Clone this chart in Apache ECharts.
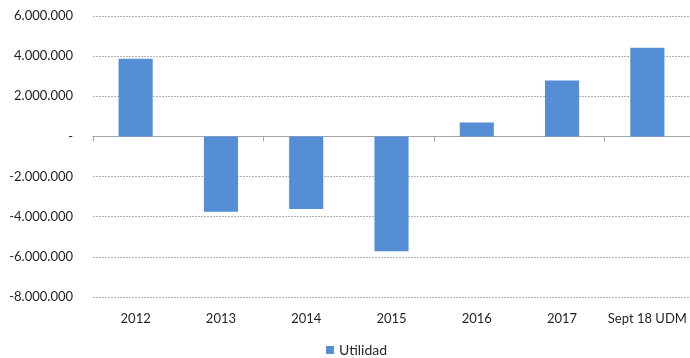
<!DOCTYPE html>
<html><head><meta charset="utf-8">
<script src="https://cdn.jsdelivr.net/npm/echarts@6/dist/echarts.min.js"></script>
<style>html,body{margin:0;padding:0;background:#fff}#c{width:690px;height:358px}</style>
</head><body><div id="c"></div>
<script>
var categories = ['2012','2013','2014','2015','2016','2017','Sept 18 UDM'];
var utilidad = [3870000, -3750000, -3620000, -5720000, 700000, 2790000, 4420000];
var seriesName = 'Utilidad';
var yMin = -8000000, yMax = 6000000, yStep = 2000000;

function fmt(v){
  if (v === 0) return '-';
  var s = Math.abs(v).toString().replace(/\B(?=(\d{3})+(?!\d))/g, '.');
  return (v < 0 ? '-' : '') + s;
}
var chart = echarts.init(document.getElementById('c'));
var font = 'Lato, "Open Sans", sans-serif';
chart.setOption({
  animation: false,
  textStyle: {fontFamily: font},
  grid: {left: 93, right: -3, top: 16, bottom: 61, containLabel: false},
  legend: {
    data: [seriesName], left: 326, top: 343, padding: 0,
    itemWidth: 8, itemHeight: 8, itemGap: 4, icon: 'rect',
    textStyle: {fontSize: 14, color: '#262626', fontFamily: font}
  },
  xAxis: [{
    type: 'category', data: categories,
    axisLine: {onZero: true, lineStyle: {color: '#A6A6A6', width: 1}},
    axisTick: {show: true, length: 5, lineStyle: {color: '#A6A6A6'}},
    axisLabel: {show: false}
  },{
    type: 'category', data: categories, position: 'bottom',
    axisLine: {show: false, onZero: false}, axisTick: {show: false},
    axisLabel: {interval: 0, margin: 15, fontSize: 13, color: '#1f1f1f', fontFamily: font}
  }],
  yAxis: {
    type: 'value', min: yMin, max: yMax, interval: yStep,
    axisLine: {show: false}, axisTick: {show: false},
    axisLabel: {formatter: fmt, fontSize: 13, color: '#1f1f1f', margin: 20, fontFamily: font},
    splitLine: {lineStyle: {color: '#B3B3B3', type: [2,1], width: 1}}
  },
  series: [{
    name: seriesName, type: 'bar', data: utilidad, xAxisIndex: 0,
    barWidth: '40%', itemStyle: {color: '#558ED5'}
  }]
});
</script></body></html>
